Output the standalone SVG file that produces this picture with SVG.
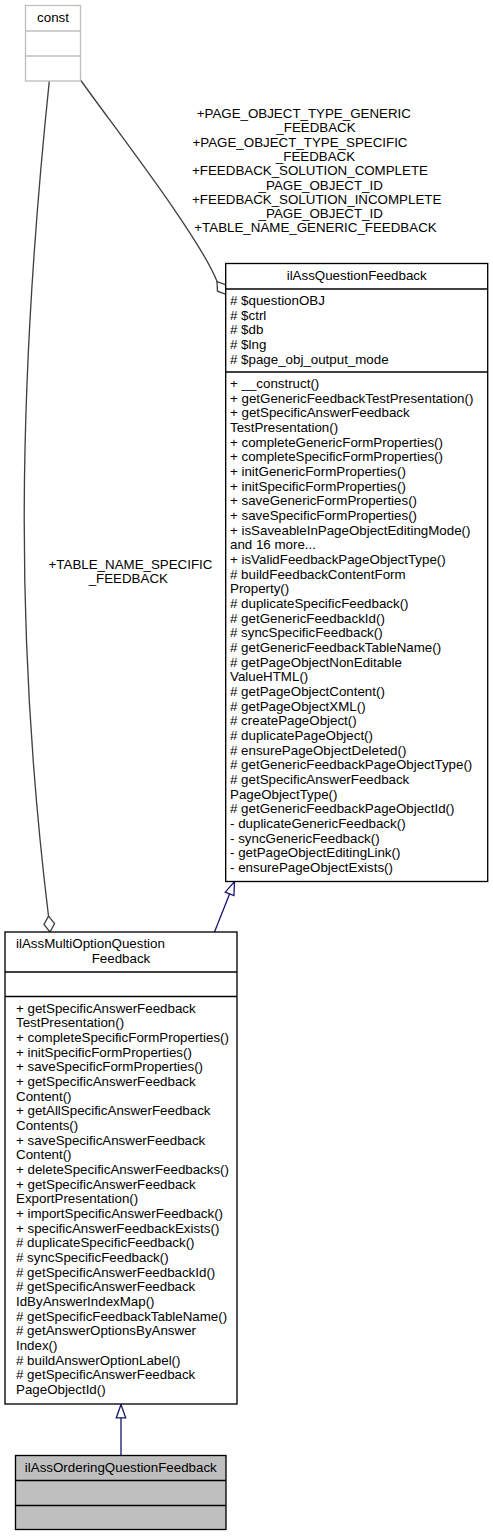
<svg xmlns="http://www.w3.org/2000/svg" width="493" height="1537" viewBox="0 0 493 1537">
<style>
text{font-family:"Liberation Sans",Arial,Helvetica,sans-serif;font-size:13.33px;fill:#000}
.box{fill:#fff;stroke:#000;stroke-width:1.33}
.ext{fill:#fff;stroke:#bfbfbf;stroke-width:1.33}
.cur{fill:#bfbfbf;stroke:#000;stroke-width:1.33}
.sep{stroke:#000;stroke-width:1.33}
.sepx{stroke:#bfbfbf;stroke-width:1.33}
.mid{text-anchor:middle}
.comp{fill:none;stroke:#404040;stroke-width:1.33;marker-end:url(#odiamond)}
.inh{fill:none;stroke:#191970;stroke-width:1.33;marker-end:url(#empty)}
</style>
<defs>
<marker id="odiamond" markerUnits="userSpaceOnUse" markerWidth="18" markerHeight="12" refX="16.5" refY="6" orient="auto" overflow="visible">
<path d="M0.5,6 L8.5,0.67 L16.5,6 L8.5,11.33 Z" fill="#fff" stroke="#404040" stroke-width="1.33"/>
</marker>
<marker id="empty" markerUnits="userSpaceOnUse" markerWidth="16" markerHeight="12" refX="14" refY="6" orient="auto" overflow="visible">
<path d="M0.7,1.33 L14,6 L0.7,10.67 Z" fill="#fff" stroke="#191970" stroke-width="1.33"/>
</marker>
</defs>

<g id="connectors">
<path class="comp" d="M49.3,81 C16,400 16,650 48.5,916 L50,932"/>
<path class="comp" d="M80.5,80 C120,135 200,238 217.3,282 L226.5,294.5"/>
<path class="inh" d="M214.5,932 L234.5,881.5"/>
<path class="inh" d="M121,1455.5 L121,1404.5"/>
<text class="mid" x="303.8" y="118">+PAGE_OBJECT_TYPE_GENERIC</text>
<text class="mid" x="316" y="132.3">_FEEDBACK</text>
<text class="mid" x="300" y="146.6">+PAGE_OBJECT_TYPE_SPECIFIC</text>
<text class="mid" x="315.5" y="160.9">_FEEDBACK</text>
<text class="mid" x="310" y="175.2">+FEEDBACK_SOLUTION_COMPLETE</text>
<text class="mid" x="320.7" y="189.5">_PAGE_OBJECT_ID</text>
<text class="mid" x="316.7" y="203.8">+FEEDBACK_SOLUTION_INCOMPLETE</text>
<text class="mid" x="320.7" y="218.1">_PAGE_OBJECT_ID</text>
<text class="mid" x="315.5" y="232.4">+TABLE_NAME_GENERIC_FEEDBACK</text>
<text class="mid" x="130.5" y="569">+TABLE_NAME_SPECIFIC</text>
<text class="mid" x="128.3" y="583">_FEEDBACK</text>
</g>

<g id="const">
<rect class="ext" x="25.5" y="5.5" width="55" height="75.5"/>
<line class="sepx" x1="25.5" y1="31" x2="80.5" y2="31"/>
<line class="sepx" x1="25.5" y1="56" x2="80.5" y2="56"/>
<text class="mid" x="53" y="22">const</text>
</g>

<g id="ilAssQuestionFeedback">
<rect class="box" x="225.7" y="263.5" width="262" height="618"/>
<line class="sep" x1="225.7" y1="289" x2="487.7" y2="289"/>
<line class="sep" x1="225.7" y1="372" x2="487.7" y2="372"/>
<text class="mid" x="356.7" y="279.5">ilAssQuestionFeedback</text>
<text x="230" y="305"><tspan x="230">#  $questionOBJ</tspan><tspan x="230" dy="14.67"># $ctrl</tspan><tspan x="230" dy="14.67"># $db</tspan><tspan x="230" dy="14.67"># $lng</tspan><tspan x="230" dy="14.67"># $page_obj_output_mode</tspan></text>
<text x="230" y="388"><tspan x="230">+ __construct()</tspan><tspan x="230" dy="14.67">+ getGenericFeedbackTestPresentation()</tspan><tspan x="230" dy="14.67">+ getSpecificAnswerFeedback</tspan><tspan x="230" dy="14.67">TestPresentation()</tspan><tspan x="230" dy="14.67">+ completeGenericFormProperties()</tspan><tspan x="230" dy="14.67">+ completeSpecificFormProperties()</tspan><tspan x="230" dy="14.67">+ initGenericFormProperties()</tspan><tspan x="230" dy="14.67">+ initSpecificFormProperties()</tspan><tspan x="230" dy="14.67">+ saveGenericFormProperties()</tspan><tspan x="230" dy="14.67">+ saveSpecificFormProperties()</tspan><tspan x="230" dy="14.67">+ isSaveableInPageObjectEditingMode()</tspan><tspan x="230" dy="14.67">and 16 more...</tspan><tspan x="230" dy="14.67">+ isValidFeedbackPageObjectType()</tspan><tspan x="230" dy="14.67"># buildFeedbackContentForm</tspan><tspan x="230" dy="14.67">Property()</tspan><tspan x="230" dy="14.67"># duplicateSpecificFeedback()</tspan><tspan x="230" dy="14.67"># getGenericFeedbackId()</tspan><tspan x="230" dy="14.67"># syncSpecificFeedback()</tspan><tspan x="230" dy="14.67"># getGenericFeedbackTableName()</tspan><tspan x="230" dy="14.67"># getPageObjectNonEditable</tspan><tspan x="230" dy="14.67">ValueHTML()</tspan><tspan x="230" dy="14.67"># getPageObjectContent()</tspan><tspan x="230" dy="14.67"># getPageObjectXML()</tspan><tspan x="230" dy="14.67"># createPageObject()</tspan><tspan x="230" dy="14.67"># duplicatePageObject()</tspan><tspan x="230" dy="14.67"># ensurePageObjectDeleted()</tspan><tspan x="230" dy="14.67"># getGenericFeedbackPageObjectType()</tspan><tspan x="230" dy="14.67"># getSpecificAnswerFeedback</tspan><tspan x="230" dy="14.67">PageObjectType()</tspan><tspan x="230" dy="14.67"># getGenericFeedbackPageObjectId()</tspan><tspan x="230" dy="14.67">- duplicateGenericFeedback()</tspan><tspan x="230" dy="14.67">- syncGenericFeedback()</tspan><tspan x="230" dy="14.67">- getPageObjectEditingLink()</tspan><tspan x="230" dy="14.67">- ensurePageObjectExists()</tspan></text>
</g>

<g id="ilAssMultiOptionQuestionFeedback">
<rect class="box" x="5" y="932" width="232" height="472"/>
<line class="sep" x1="5" y1="972" x2="237" y2="972"/>
<line class="sep" x1="5" y1="996.5" x2="237" y2="996.5"/>
<text x="16" y="948">ilAssMultiOptionQuestion</text>
<text class="mid" x="121" y="962.7">Feedback</text>
<text x="16" y="1012.5"><tspan x="16">+ getSpecificAnswerFeedback</tspan><tspan x="16" dy="14.67">TestPresentation()</tspan><tspan x="16" dy="14.67">+ completeSpecificFormProperties()</tspan><tspan x="16" dy="14.67">+ initSpecificFormProperties()</tspan><tspan x="16" dy="14.67">+ saveSpecificFormProperties()</tspan><tspan x="16" dy="14.67">+ getSpecificAnswerFeedback</tspan><tspan x="16" dy="14.67">Content()</tspan><tspan x="16" dy="14.67">+ getAllSpecificAnswerFeedback</tspan><tspan x="16" dy="14.67">Contents()</tspan><tspan x="16" dy="14.67">+ saveSpecificAnswerFeedback</tspan><tspan x="16" dy="14.67">Content()</tspan><tspan x="16" dy="14.67">+ deleteSpecificAnswerFeedbacks()</tspan><tspan x="16" dy="14.67">+ getSpecificAnswerFeedback</tspan><tspan x="16" dy="14.67">ExportPresentation()</tspan><tspan x="16" dy="14.67">+ importSpecificAnswerFeedback()</tspan><tspan x="16" dy="14.67">+ specificAnswerFeedbackExists()</tspan><tspan x="16" dy="14.67"># duplicateSpecificFeedback()</tspan><tspan x="16" dy="14.67"># syncSpecificFeedback()</tspan><tspan x="16" dy="14.67"># getSpecificAnswerFeedbackId()</tspan><tspan x="16" dy="14.67"># getSpecificAnswerFeedback</tspan><tspan x="16" dy="14.67">IdByAnswerIndexMap()</tspan><tspan x="16" dy="14.67"># getSpecificFeedbackTableName()</tspan><tspan x="16" dy="14.67"># getAnswerOptionsByAnswer</tspan><tspan x="16" dy="14.67">Index()</tspan><tspan x="16" dy="14.67"># buildAnswerOptionLabel()</tspan><tspan x="16" dy="14.67"># getSpecificAnswerFeedback</tspan><tspan x="16" dy="14.67">PageObjectId()</tspan></text>
</g>

<g id="ilAssOrderingQuestionFeedback">
<rect class="cur" x="15.5" y="1455.5" width="210.5" height="74"/>
<line class="sep" x1="15.5" y1="1480.5" x2="226" y2="1480.5"/>
<line class="sep" x1="15.5" y1="1505.5" x2="226" y2="1505.5"/>
<text class="mid" x="120.8" y="1471.5">ilAssOrderingQuestionFeedback</text>
</g>
</svg>
